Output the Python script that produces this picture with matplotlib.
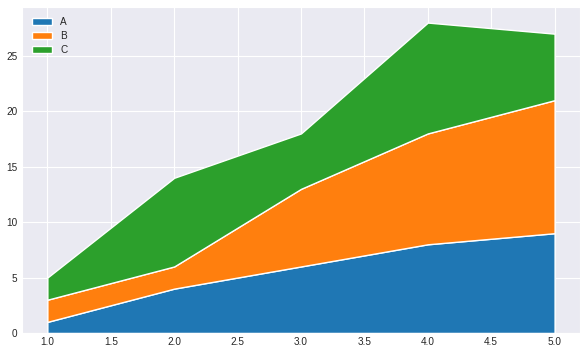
import matplotlib
matplotlib.use("Agg")
import matplotlib.pyplot as plt
import seaborn as sns

# data
x = [1, 2, 3, 4, 5]
a = [1, 4, 6, 8, 9]
b = [2, 2, 7, 10, 12]
c = [2, 8, 5, 10, 6]
labels = ["A", "B", "C"]

sns.set_style("darkgrid")
plt.rcParams['font.family'] = ['Liberation Sans', 'DejaVu Sans']

fig, ax = plt.subplots(figsize=(5.87, 3.53), dpi=100)
ax.stackplot(x, a, b, c, labels=labels,
             colors=["#1f77b4", "#ff7f0e", "#2ca02c"])
ax.legend(loc="upper left", fontsize=7.2, frameon=False,
          borderaxespad=0.6, labelspacing=0.4)
ax.tick_params(labelsize=7.2, length=0, pad=3.2)
ax.set_ylim(0, 29.4)
ax.margins(x=0.05)
fig.subplots_adjust(left=0.0375, right=0.988, top=0.980, bottom=0.0567)

fig.savefig("out.png", dpi=100)
